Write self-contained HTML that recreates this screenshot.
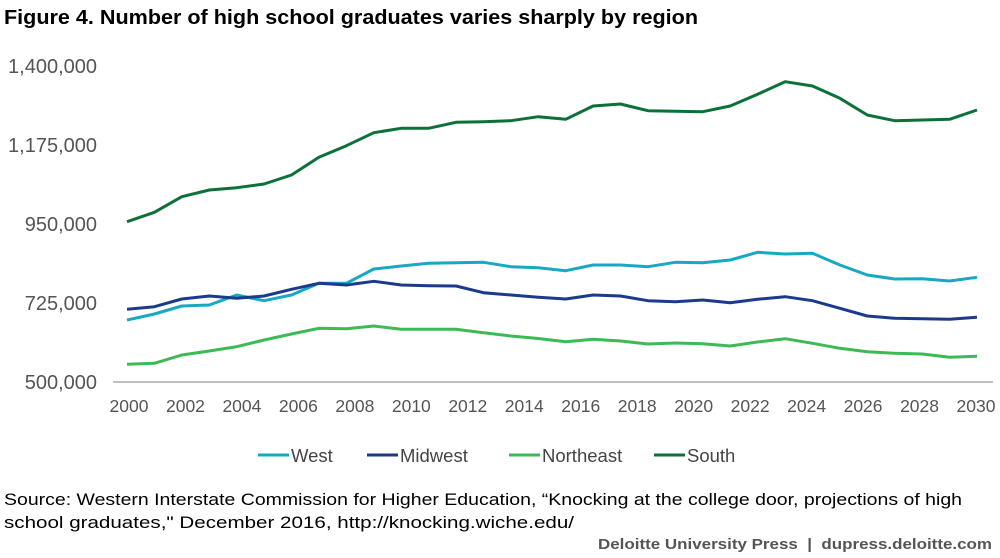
<!DOCTYPE html>
<html><head><meta charset="utf-8"><style>
body{margin:0;width:1000px;height:558px;background:#fff;overflow:hidden;font-family:"Liberation Sans",sans-serif}
svg{position:absolute;left:0;top:0}
</style></head><body>
<svg id="chart" width="1000" height="558" viewBox="0 0 1000 558">
<text x="4" y="24" font-size="20" font-weight="bold" fill="#000" textLength="694" lengthAdjust="spacingAndGlyphs">Figure 4. Number of high school graduates varies sharply by region</text>
<g id="yaxis"></g>
<g id="xaxis"></g>
<line x1="113" x2="993" y1="382" y2="382" stroke="#aaa" stroke-width="1.5"/>
<g id="series"></g>
<g id="legend"></g>
<text x="4" y="505" font-size="17" fill="#000" textLength="958" lengthAdjust="spacingAndGlyphs">Source: Western Interstate Commission for Higher Education, “Knocking at the college door, projections of high</text>
<text x="4" y="528" font-size="17" fill="#000" textLength="570" lengthAdjust="spacingAndGlyphs">school graduates," December 2016, http://knocking.wiche.edu/</text>
<text x="598" y="549" font-size="15" font-weight="bold" fill="#555" textLength="394" lengthAdjust="spacingAndGlyphs" xml:space="preserve">Deloitte University Press  |  dupress.deloitte.com</text>
</svg>
<script>
const years = [2000,2001,2002,2003,2004,2005,2006,2007,2008,2009,2010,2011,2012,2013,2014,2015,2016,2017,2018,2019,2020,2021,2022,2023,2024,2025,2026,2027,2028,2029,2030,2031];
const west = [676600,693700,716400,719300,747800,731500,747800,781100,781100,821800,830400,838100,839800,840900,828400,825500,817000,833200,833200,828400,840900,839800,847500,869400,864500,866500,833200,804700,793300,794200,787600,798200];
const midwest = [707000,714500,736400,744900,738400,744900,764000,781100,776300,786800,776300,774300,773400,754300,747800,741200,736400,747800,744900,731500,728700,733500,725800,735500,742900,731500,709900,688000,681400,680300,678600,684300];
const northeast = [550400,553300,576900,588300,600500,619600,636700,652900,651800,659500,650100,650100,650100,640400,631000,623900,614800,621600,616800,608200,611100,609100,602500,613900,623300,610200,595900,586300,581700,579700,570300,573200];
const south = [956500,983300,1027700,1046800,1053400,1063900,1089500,1140000,1173000,1210000,1222500,1222500,1239600,1241300,1244200,1255600,1248200,1286000,1291700,1272600,1271000,1269800,1286000,1319400,1355300,1343000,1308000,1260400,1244200,1246200,1248200,1274700];
const yTicks = [500000,725000,950000,1175000,1400000];
const xTickLabels = [2000,2002,2004,2006,2008,2010,2012,2014,2016,2018,2020,2022,2024,2026,2028,2030];
const seriesNames = ["West","Midwest","Northeast","South"];
const colors = ["#17a9c4","#1b3a8c","#3cba54","#0b7138"];

const NS="http://www.w3.org/2000/svg";
const yScale = v => 382 - (v-500000)/900000*316;
const xScale = i => 127 + i*(850/31);
const xLabelScale = yr => 129 + (yr-2000)*(847/30);
function mk(tag, attrs, parent){const e=document.createElementNS(NS,tag);for(const k in attrs)e.setAttribute(k,attrs[k]);parent.appendChild(e);return e;}
const yg=document.getElementById('yaxis');
yTicks.forEach(t=>{
  const el=mk('text',{x:97,y:yScale(t)+7,'text-anchor':'end','font-size':20,fill:'#555'},yg);
  
  
  el.textContent=t.toLocaleString('en-US');
});
const xg=document.getElementById('xaxis');
xTickLabels.forEach(yr=>{
  const el=mk('text',{x:xLabelScale(yr),y:412,'text-anchor':'middle','font-size':17.5,fill:'#555'},xg);
  
  
  el.textContent=yr;
});
const sg=document.getElementById('series');
[west,midwest,northeast,south].forEach((arr,si)=>{
  const d=arr.map((v,i)=>(i?'L':'M')+xScale(i).toFixed(1)+','+yScale(v).toFixed(1)).join(' ');
  const p=mk('path',{d:d,fill:'none',stroke:colors[si],'stroke-width':3,'stroke-linejoin':'round'},sg);
  
  
});
const lg=document.getElementById('legend');
const lx=[258,367,509,654];
seriesNames.forEach((n,i)=>{
  const l=mk('line',{x1:lx[i],x2:lx[i]+31,y1:455,y2:455,stroke:colors[i],'stroke-width':3},lg);
  
  
  const t=mk('text',{x:lx[i]+33,y:462,'font-size':18.5,fill:'#444'},lg);
  
  
  t.textContent=n;
});
</script>
</body></html>
